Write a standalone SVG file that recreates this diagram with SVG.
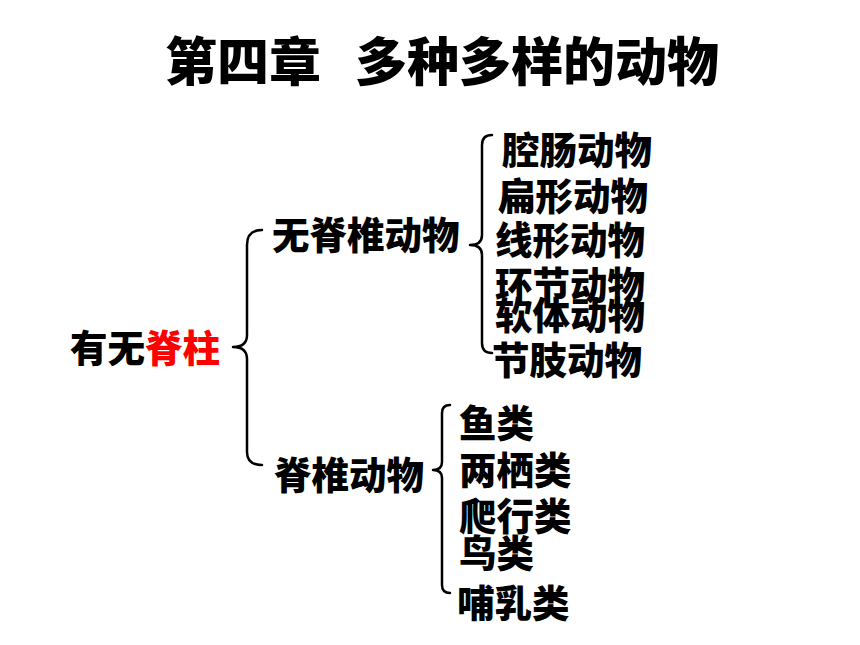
<svg xmlns="http://www.w3.org/2000/svg" width="860" height="645" viewBox="0 0 860 645">
<style>
text{font-family:"Noto Sans CJK SC","Liberation Sans",sans-serif;font-weight:900;fill:#000}
.t{font-size:52px}
.n{font-size:37.5px}
.red{fill:#ff0000}
.brace{fill:none;stroke:#000;stroke-width:2.5;stroke-linecap:round;stroke-linejoin:round}
</style>
<rect width="860" height="645" fill="#fff"/>
<g id="title">
<text class="t" x="165" y="81">第四章</text>
<text class="t" x="355" y="81">多种多样的动物</text>
</g>
<g id="connectors">
<path class="brace" d="M262,230 Q247,230 247,245 L247,335 Q247,347 233,347 Q247,347 247,359 L247,452 Q247,465 262,465"/>
<path class="brace" d="M492,135 Q482,135 482,145 L482,235 Q482,245 470,245 Q482,245 482,255 L482,343 Q482,353 492,353"/>
<path class="brace" d="M450,405 Q442,405 442,413 L442,462 Q442,470 433,470 Q442,470 442,478 L442,585 Q442,593 450,593"/>
</g>
<g id="root"><text class="n" x="70" y="362">有无<tspan class="red">脊柱</tspan></text></g>
<g id="invertebrates"><text class="n" x="272" y="249">无脊椎动物</text></g>
<g id="vertebrates"><text class="n" x="274" y="489">脊椎动物</text></g>
<g id="coelenterata"><text class="n" x="502" y="164">腔肠动物</text></g>
<g id="platyhelminthes"><text class="n" x="498" y="210">扁形动物</text></g>
<g id="nematoda"><text class="n" x="495" y="254">线形动物</text></g>
<g id="annelida"><text class="n" x="495" y="299">环节动物</text></g>
<g id="mollusca"><text class="n" x="495" y="329">软体动物</text></g>
<g id="arthropoda"><text class="n" x="492" y="374">节肢动物</text></g>
<g id="fish"><text class="n" x="459" y="437">鱼类</text></g>
<g id="amphibians"><text class="n" x="459" y="484">两栖类</text></g>
<g id="reptiles"><text class="n" x="459" y="530">爬行类</text></g>
<g id="birds"><text class="n" x="459" y="567">鸟类</text></g>
<g id="mammals"><text class="n" x="457" y="617">哺乳类</text></g>
</svg>
